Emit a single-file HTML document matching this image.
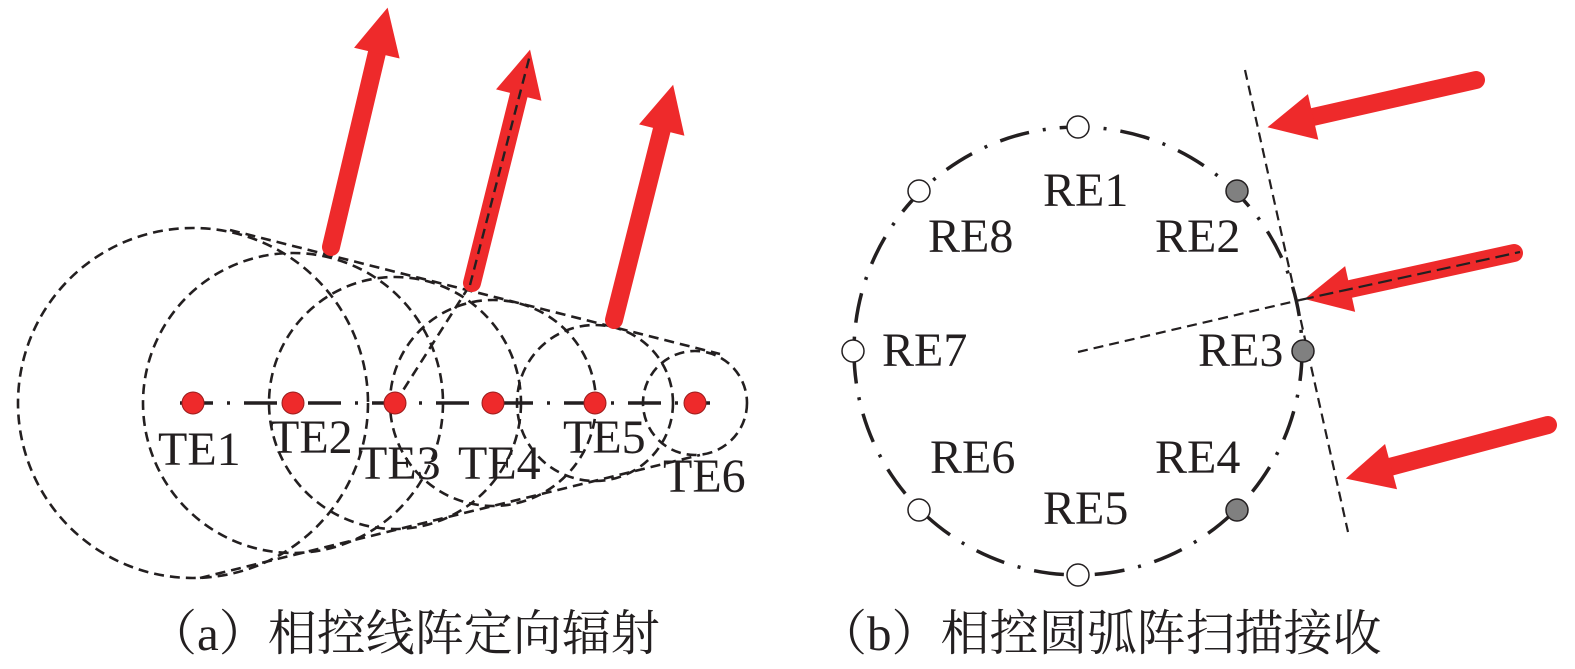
<!DOCTYPE html>
<html><head><meta charset="utf-8"><style>
html,body{margin:0;padding:0;background:#fff;width:1575px;height:669px;overflow:hidden}
svg{display:block}
text{font-family:"Liberation Serif","Noto Serif CJK SC",serif;fill:#231f20}
</style></head><body>
<svg width="1575" height="669" viewBox="0 0 1575 669">
<defs>
<marker id="ah" viewBox="0 0 10 10" refX="2" refY="5" markerWidth="2.8" markerHeight="2.6" orient="auto" markerUnits="strokeWidth">
<path d="M0,0 L10,5 L0,10 Z" fill="#ee2a2b"/></marker>
</defs>
<g fill="none" stroke="#231f20" stroke-width="2.6" stroke-dasharray="10,6">
<circle cx="193" cy="403" r="175"/>
<circle cx="293" cy="403" r="150"/>
<circle cx="395" cy="403" r="126"/>
<circle cx="493" cy="403" r="103"/>
<circle cx="595" cy="403" r="78"/>
<circle cx="695" cy="403" r="52"/>
<line x1="230" y1="230" x2="720" y2="354"/>
<line x1="200" y1="578" x2="700" y2="455"/>
<line x1="395" y1="403" x2="470" y2="285"/>
</g>
<line x1="180" y1="403" x2="710" y2="403" stroke="#231f20" stroke-width="3.5" stroke-dasharray="33,14,3,14"/>
<g fill="#ee2a2b" stroke="#9a1c1c" stroke-width="1">
<circle cx="193" cy="403" r="11"/><circle cx="293" cy="403" r="11"/><circle cx="395" cy="403" r="11"/>
<circle cx="493" cy="403" r="11"/><circle cx="595" cy="403" r="11"/><circle cx="695" cy="403" r="11"/>
</g>
<g stroke="#ee2a2b" stroke-width="18" stroke-linecap="round" marker-end="url(#ah)">
<line x1="331" y1="247" x2="379" y2="44"/>
<line x1="472" y1="283" x2="521" y2="86"/>
<line x1="614" y1="320" x2="664" y2="121"/>
</g>
<line x1="470" y1="285" x2="530" y2="55" stroke="#231f20" stroke-width="2.4" stroke-dasharray="10,6"/>
<g font-size="48">
<text x="158" y="465">TE1</text><text x="270" y="453">TE2</text><text x="358" y="479">TE3</text>
<text x="458" y="479">TE4</text><text x="563" y="453">TE5</text><text x="663" y="492">TE6</text>
</g>
<!-- right -->
<circle cx="1078" cy="351" r="224" fill="none" stroke="#231f20" stroke-width="3.5" stroke-dasharray="30,14,3,14"/>
<g fill="none" stroke="#231f20" stroke-width="2.2" stroke-dasharray="10,6">
<line x1="1245" y1="70" x2="1348" y2="532"/>
<line x1="1078" y1="352" x2="1300" y2="300"/>
</g>
<g stroke="#ee2a2b" stroke-width="18" stroke-linecap="round" marker-end="url(#ah)">
<line x1="1476" y1="80" x2="1304" y2="119"/>
<line x1="1514" y1="253" x2="1341" y2="291"/>
<line x1="1548" y1="425" x2="1382" y2="469"/>
</g>
<line x1="1300" y1="300" x2="1520" y2="252" stroke="#231f20" stroke-width="2.2" stroke-dasharray="14,6"/>
<g stroke="#231f20" stroke-width="1.5">
<circle cx="1078" cy="127" r="11" fill="#fff"/>
<circle cx="1237" cy="191" r="11" fill="#808080"/>
<circle cx="1303" cy="351" r="11" fill="#808080"/>
<circle cx="1237" cy="510" r="11" fill="#808080"/>
<circle cx="1078" cy="575" r="11" fill="#fff"/>
<circle cx="919" cy="510" r="11" fill="#fff"/>
<circle cx="853" cy="351" r="11" fill="#fff"/>
<circle cx="919" cy="191" r="11" fill="#fff"/>
</g>
<g font-size="48">
<text x="1043" y="206">RE1</text><text x="1155" y="252">RE2</text><text x="1198" y="366">RE3</text>
<text x="1155" y="473">RE4</text><text x="1043" y="524">RE5</text><text x="930" y="473">RE6</text>
<text x="882" y="366">RE7</text><text x="928" y="252">RE8</text>
</g>
<g font-size="49">
<text x="148" y="650">（a）相控线阵定向辐射</text>
<text x="818" y="650">（b）相控圆弧阵扫描接收</text>
</g>
</svg>
</body></html>
